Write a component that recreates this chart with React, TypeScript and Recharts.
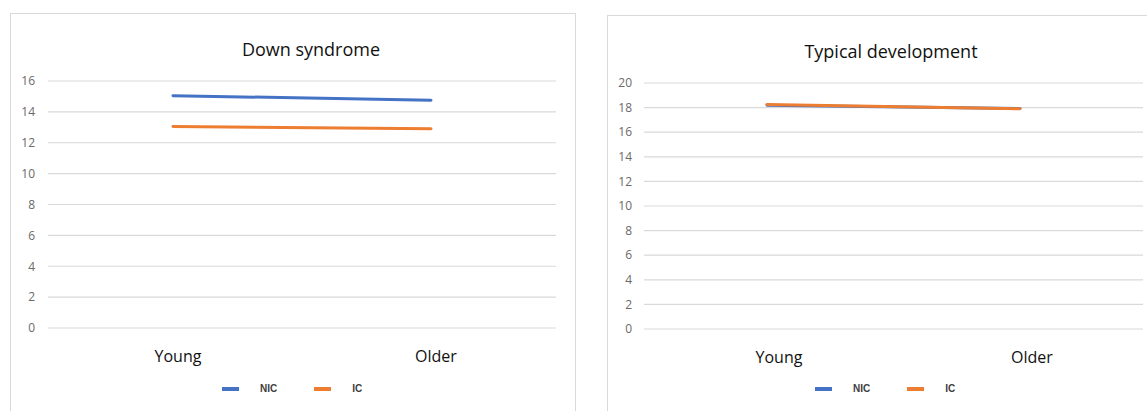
import React from 'react';
import { LineChart, Line, XAxis, YAxis, CartesianGrid, Legend } from 'recharts';

// age groups on the x axis
const categories = ['Young', 'Older'];
const seriesNames = ['NIC', 'IC'];

// Down syndrome group
const downNic = [15.05, 14.75];
const downIc = [13.05, 12.9];
const downTicks = [0, 2, 4, 6, 8, 10, 12, 14, 16];

// typical development group
const typicalNic = [18.2, 17.92];
const typicalIc = [18.25, 17.9];
const typicalTicks = [0, 2, 4, 6, 8, 10, 12, 14, 16, 18, 20];

const BLUE = '#4472C4';
const ORANGE = '#ED7D31';
const GRID = '#d9d9d9';
const FONT = '"Open Sans", Lato, sans-serif';

const buildRows = (nic: number[], ic: number[]) =>
  categories.map((age, i) => ({ age, NIC: nic[i], IC: ic[i] }));

const renderLegend = (props: any) => {
  const items = [...(props.payload || [])].sort(
    (a: any, b: any) => seriesNames.indexOf(a.value) - seriesNames.indexOf(b.value)
  );
  return (
    <div
      style={{
        display: 'flex',
        alignItems: 'center',
        fontFamily: '"Liberation Sans", Arial, sans-serif',
        fontSize: 10,
        fontWeight: 'bold',
        color: '#404040',
        lineHeight: '12px',
        whiteSpace: 'nowrap',
      }}
    >
      {items.map((entry: any) => (
        <div key={entry.value} style={{ display: 'flex', alignItems: 'center', marginRight: 37 }}>
          <span style={{ display: 'inline-block', width: 17, height: 4, background: entry.color, marginRight: 21 }} />
          <span>{entry.value}</span>
        </div>
      ))}
    </div>
  );
};

type PanelProps = {
  title: string;
  titleX: number;
  titleY: number;
  nic: number[];
  ic: number[];
  ticks: number[];
  width: number;
  margin: { top: number; right: number; bottom: number; left: number };
  tickGap: number;
  padX: number;
  labelDx: number;
  legendLeft: number;
};

const AgePanel = (p: PanelProps) => {
  const rows = buildRows(p.nic, p.ic);
  const top = p.ticks[p.ticks.length - 1];
  return (
    <LineChart width={p.width} height={411} data={rows} margin={p.margin}>
      <text x={p.titleX} y={p.titleY} textAnchor="middle" fontFamily={FONT} fontSize={18} fill="#111">
        {p.title}
      </text>
      <CartesianGrid vertical={false} stroke={GRID} strokeWidth={1.2} />
      <XAxis
        dataKey="age"
        axisLine={false}
        tickLine={false}
        tickSize={0}
        tickMargin={23}
        height={40}
        padding={{ left: p.padX, right: p.padX }}
        tick={{ fontFamily: FONT, fontSize: 16, fill: '#111', dx: p.labelDx }}
      />
      <YAxis
        domain={[0, top]}
        ticks={p.ticks}
        interval={0}
        width={30}
        axisLine={false}
        tickLine={false}
        tickSize={0}
        tickMargin={p.tickGap}
        tick={{ fontFamily: FONT, fontSize: 12, fill: '#6a6a6a' }}
      />
      <Legend
        content={renderLegend}
        wrapperStyle={{ left: p.legendLeft, top: 383, bottom: 'auto', width: 'auto', height: 0, overflow: 'visible' }}
      />
      <Line
        dataKey="NIC"
        stroke={BLUE}
        strokeWidth={3}
        strokeLinecap="round"
        dot={false}
        activeDot={false}
        isAnimationActive={false}
      />
      <Line
        dataKey="IC"
        stroke={ORANGE}
        strokeWidth={3}
        strokeLinecap="round"
        dot={false}
        activeDot={false}
        isAnimationActive={false}
      />
    </LineChart>
  );
};

const App = () => (
  <div
    style={{
      position: 'absolute',
      left: 0,
      top: 0,
      width: 1147,
      height: 411,
      overflow: 'hidden',
      background: '#fff',
    }}
  >
    {/* panel frames */}
    <div style={{ position: 'absolute', left: 10, top: 13, width: 564, height: 420, border: `1px solid ${GRID}` }} />
    <div style={{ position: 'absolute', left: 607, top: 15, width: 600, height: 420, border: `1px solid ${GRID}` }} />

    <div style={{ position: 'absolute', left: 0, top: 0 }}>
      <AgePanel
        title="Down syndrome"
        titleX={311}
        titleY={56}
        nic={downNic}
        ic={downIc}
        ticks={downTicks}
        width={600}
        margin={{ top: 81, right: 44, bottom: 43, left: 18 }}
        tickGap={13}
        padX={125}
        labelDx={5}
        legendLeft={222}
      />
    </div>
    <div style={{ position: 'absolute', left: 590, top: 0 }}>
      <AgePanel
        title="Typical development"
        titleX={301}
        titleY={58}
        nic={typicalNic}
        ic={typicalIc}
        ticks={typicalTicks}
        width={557}
        margin={{ top: 83, right: 4, bottom: 42, left: 24 }}
        tickGap={12}
        padX={123}
        labelDx={12}
        legendLeft={225}
      />
    </div>
  </div>
);

export default App;
